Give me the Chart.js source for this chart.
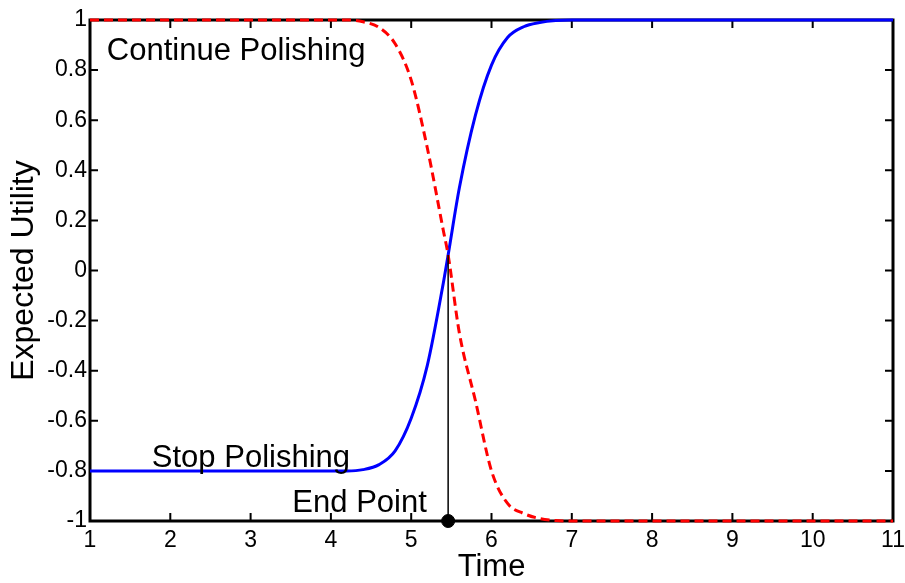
<!DOCTYPE html>
<html>
<head>
<meta charset="utf-8">
<script src="https://cdn.jsdelivr.net/npm/chart.js@4"></script>
<style>
  body { margin: 0; background: #fff; }
  canvas { display: block; }
</style>
</head>
<body>
<canvas id="utility-chart" width="905" height="583"></canvas>
<script>
// values
const time = [1, 2, 3, 4, 4.2, 4.4, 4.6, 4.8, 5.0, 5.2, 5.4, 5.46, 5.6, 5.8, 6.0, 6.2, 6.4, 6.6, 6.8, 7, 8, 9, 10, 11];
const stopPolishing = [-0.8, -0.8, -0.8, -0.8, -0.8, -0.795, -0.775, -0.72, -0.59, -0.38, -0.05, 0.062, 0.33, 0.62, 0.82, 0.93, 0.973, 0.99, 0.998, 1, 1, 1, 1, 1];
const continuePolishing = [1, 1, 1, 1, 1, 0.993, 0.97, 0.905, 0.76, 0.49, 0.16, 0.062, -0.25, -0.52, -0.8, -0.93, -0.97, -0.99, -0.998, -1, -1, -1, -1, -1];
const endPointTime = 5.46;
const endPointUtility = [-1, 0.062];

const xTicks = [1, 2, 3, 4, 5, 6, 7, 8, 9, 10, 11];
const yTicks = [-1, -0.8, -0.6, -0.4, -0.2, 0, 0.2, 0.4, 0.6, 0.8, 1];
const yTickLabels = ['-1', '-0.8', '-0.6', '-0.4', '-0.2', '0', '0.2', '0.4', '0.6', '0.8', '1'];

const notes = [
  { text: 'Continue Polishing', x: 1.21, y: 0.84 },
  { text: 'Stop Polishing', x: 1.77, y: -0.784 },
  { text: 'End Point', x: 3.52, y: -0.963 }
];

const FONT = '"Liberation Sans", Arial, Helvetica, sans-serif';

function toPoints(xs, ys) {
  return xs.map((x, i) => ({ x: x, y: ys[i] }));
}

// box round the plot with ticks pointing inwards on all four sides
const frameBox = {
  id: 'frameBox',
  beforeDatasetsDraw(chart) {
    const ctx = chart.ctx;
    const a = chart.chartArea;
    const xs = chart.scales.x, ys = chart.scales.y;
    ctx.save();
    ctx.strokeStyle = '#000';
    ctx.lineWidth = 2;
    ctx.beginPath();
    xTicks.slice(1, -1).forEach(v => {
      const px = xs.getPixelForValue(v);
      ctx.moveTo(px, a.bottom); ctx.lineTo(px, a.bottom - 8);
      ctx.moveTo(px, a.top); ctx.lineTo(px, a.top + 8);
    });
    yTicks.slice(1, -1).forEach(v => {
      const py = ys.getPixelForValue(v);
      ctx.moveTo(a.left, py); ctx.lineTo(a.left + 8, py);
      ctx.moveTo(a.right, py); ctx.lineTo(a.right - 8, py);
    });
    ctx.stroke();
    ctx.lineWidth = 3;
    ctx.strokeRect(a.left, a.top, a.right - a.left, a.bottom - a.top);
    ctx.restore();
  },
  afterDatasetsDraw(chart) {
    const ctx = chart.ctx;
    const xs = chart.scales.x, ys = chart.scales.y;
    ctx.save();
    ctx.fillStyle = '#000';
    ctx.font = '31px ' + FONT;
    ctx.textAlign = 'left';
    ctx.textBaseline = 'alphabetic';
    notes.forEach(n => {
      ctx.fillText(n.text, xs.getPixelForValue(n.x), ys.getPixelForValue(n.y));
    });
    ctx.restore();
  }
};

const ctx = document.getElementById('utility-chart').getContext('2d');
const chart = new Chart(ctx, {
  type: 'line',
  data: {
    datasets: [
      {
        label: 'End Point line',
        data: toPoints([endPointTime, endPointTime], endPointUtility),
        borderColor: '#000',
        borderWidth: 1.5,
        pointRadius: 0
      },
      {
        label: 'Continue Polishing',
        data: toPoints(time, continuePolishing),
        borderColor: '#ff0000',
        borderWidth: 3,
        borderDash: [9, 5],
        pointRadius: 0,
        cubicInterpolationMode: 'monotone'
      },
      {
        label: 'Stop Polishing',
        data: toPoints(time, stopPolishing),
        borderColor: '#0000ff',
        borderWidth: 3,
        pointRadius: 0,
        cubicInterpolationMode: 'monotone'
      },
      {
        label: 'End Point',
        data: toPoints([endPointTime], [endPointUtility[0]]),
        showLine: false,
        pointRadius: 6.5,
        pointBackgroundColor: '#000',
        pointBorderColor: '#000'
      }
    ]
  },
  options: {
    responsive: false,
    animation: false,
    clip: false,
    layout: { padding: { top: 20, right: 12, left: 0, bottom: 0 } },
    plugins: {
      legend: { display: false },
      tooltip: { enabled: false }
    },
    scales: {
      x: {
        type: 'linear',
        min: 1,
        max: 11,
        grid: { display: false, drawTicks: false },
        border: { display: false },
        afterBuildTicks: s => { s.ticks = xTicks.map(v => ({ value: v })); },
        afterFit: s => { s.height = 62; s.paddingLeft = 0; s.paddingRight = 0; },
        ticks: {
          autoSkip: false,
          maxRotation: 0,
          padding: 6,
          color: '#000',
          font: { family: FONT, size: 23 },
          callback: v => String(v)
        },
        title: {
          display: true,
          text: 'Time',
          color: '#000',
          padding: { top: 0, bottom: 0 },
          font: { family: FONT, size: 31, lineHeight: 1.0 }
        }
      },
      y: {
        min: -1,
        max: 1,
        grid: { display: false, drawTicks: false },
        border: { display: false },
        afterBuildTicks: s => { s.ticks = yTicks.map(v => ({ value: v })); },
        afterFit: s => { s.width = 90; },
        ticks: {
          autoSkip: false,
          padding: 3,
          color: '#000',
          font: { family: FONT, size: 23 },
          callback: (v, i) => yTickLabels[i]
        },
        title: {
          display: true,
          text: 'Expected Utility',
          color: '#000',
          padding: { top: 5, bottom: 0 },
          font: { family: FONT, size: 32 }
        }
      }
    }
  },
  plugins: [frameBox]
});
</script>
</body>
</html>
